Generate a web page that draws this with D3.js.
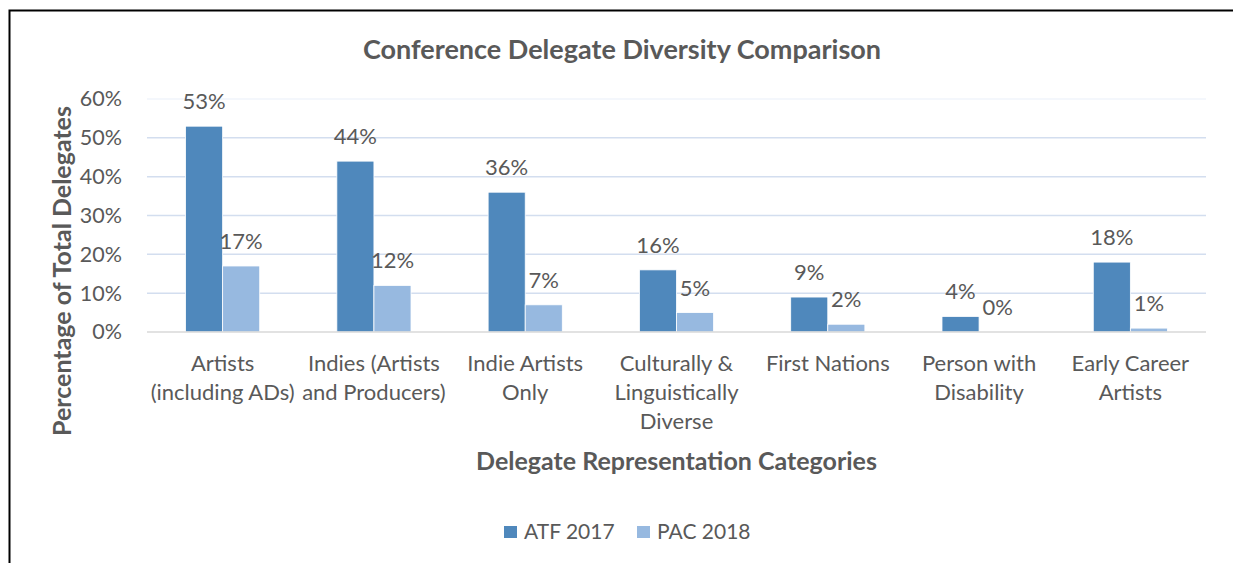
<!DOCTYPE html>
<html>
<head>
<meta charset="utf-8">
<script src="https://cdn.jsdelivr.net/npm/d3@7"></script>
<style>
  body { margin: 0; background: #fff; }
  svg text { font-family: Lato, "Open Sans", sans-serif; fill: #595959; }
</style>
</head>
<body>
<div id="chart"></div>
<script>
const categories = [
    ['Artists', '(including ADs)'],
    ['Indies (Artists', 'and Producers)'],
    ['Indie Artists', 'Only'],
    ['Culturally &', 'Linguistically', 'Diverse'],
    ['First Nations'],
    ['Person with', 'Disability'],
    ['Early Career', 'Artists']
];
const seriesNames = ['ATF 2017', 'PAC 2018'];
const atf2017 = [53, 44, 36, 16, 9, 4, 18];
const pac2018 = [17, 12, 7, 5, 2, 0, 1];
const yTicks = [0, 10, 20, 30, 40, 50, 60];
const colors = ['#4f88bc', '#97b9e0'];

const width = 1233, height = 563;
const margin = {left: 147, right: 27, top: 99, bottom: 231};

const svg = d3.select('#chart').append('svg')
    .attr('width', width).attr('height', height);

// frame of the original chart (cut off at right and bottom)
svg.append('path')
    .attr('d', 'M9.5,563 V10.5 H1233')
    .attr('fill', 'none').attr('stroke', '#000').attr('stroke-width', 2);

const x = d3.scaleBand()
    .domain(d3.range(categories.length))
    .range([margin.left, width - margin.right]);
const x1 = d3.scaleBand()
    .domain([0, 1])
    .range([0, x.bandwidth()])
    .paddingInner(0)
    .paddingOuter(1.04);
const y = d3.scaleLinear()
    .domain([0, 60])
    .range([height - margin.bottom, margin.top]);

// gridlines
svg.append('g')
    .selectAll('line')
    .data(yTicks.slice(1))
    .join('line')
    .attr('x1', margin.left).attr('x2', width - margin.right)
    .attr('y1', d => y(d)).attr('y2', d => y(d))
    .attr('stroke', d => d === 60 ? '#f0f4fb' : '#d3deef')
    .attr('stroke-width', 1.5);

// y axis labels
const yAxis = svg.append('g')
    .attr('transform', `translate(${margin.left - 22},0)`)
    .call(d3.axisLeft(y).tickValues(yTicks).tickFormat(d => d + '%').tickSize(0));
yAxis.select('.domain').remove();
yAxis.selectAll('text')
    .attr('font-size', 21.5).attr('fill', '#595959')
    .attr('font-family', 'Lato, sans-serif');

const series = [atf2017, pac2018];
const groups = svg.append('g')
    .selectAll('g')
    .data(categories.map((c, i) => i))
    .join('g')
    .attr('transform', i => `translate(${x(i)},0)`);

groups.selectAll('rect')
    .data(i => series.map((s, k) => ({k, v: s[i]})))
    .join('rect')
    .attr('x', d => x1(d.k))
    .attr('width', x1.bandwidth())
    .attr('y', d => y(d.v))
    .attr('height', d => y(0) - y(d.v))
    .attr('fill', d => colors[d.k])
    .attr('stroke', '#fff').attr('stroke-width', 0.8);

groups.selectAll('text.val')
    .data(i => series.map((s, k) => ({k, v: s[i]})))
    .join('text')
    .attr('class', 'val')
    .attr('x', d => x1(d.k) + x1.bandwidth() / 2)
    .attr('y', d => y(d.v) - 17)
    .attr('text-anchor', 'middle')
    .attr('font-size', 22)
    .text(d => d.v + '%');

// baseline
svg.append('line')
    .attr('x1', margin.left).attr('x2', width - margin.right)
    .attr('y1', y(0)).attr('y2', y(0))
    .attr('stroke', '#d9d9d9').attr('stroke-width', 1.5);

// category labels
groups.append('text')
    .attr('text-anchor', 'middle')
    .attr('font-size', 22)
    .selectAll('tspan')
    .data(i => categories[i])
    .join('tspan')
    .attr('x', x.bandwidth() / 2)
    .attr('y', (d, j) => 371 + j * 29)
    .text(d => d);

// title
svg.append('text')
    .attr('x', 622).attr('y', 59)
    .attr('text-anchor', 'middle')
    .attr('font-size', 27).attr('font-weight', 'bold')
    .text('Conference Delegate Diversity Comparison');

// axis titles
svg.append('text')
    .attr('x', (margin.left + width - margin.right) / 2).attr('y', 470)
    .attr('text-anchor', 'middle')
    .attr('font-size', 25).attr('font-weight', 'bold')
    .text('Delegate Representation Categories');

svg.append('text')
    .attr('transform', 'translate(71,271) rotate(-90)')
    .attr('text-anchor', 'middle')
    .attr('font-size', 25).attr('font-weight', 'bold')
    .text('Percentage of Total Delegates');

// legend
const legend = svg.append('g')
    .selectAll('g')
    .data(seriesNames)
    .join('g')
    .attr('transform', (d, i) => `translate(${504 + i * 133},526)`);
legend.append('rect')
    .attr('width', 13).attr('height', 12)
    .attr('fill', (d, i) => colors[i]);
legend.append('text')
    .attr('x', 20).attr('y', 13)
    .attr('font-size', 21)
    .text(d => d);
</script>
</body>
</html>
